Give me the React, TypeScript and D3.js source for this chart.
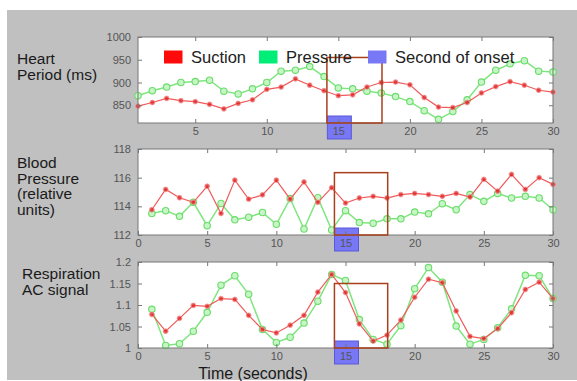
import * as d3 from "d3";
import { useEffect, useRef } from "react";

const seconds = d3.range(1, 31);

const heartSuction = [848, 856, 865, 860, 858, 852, 842, 854, 862, 885, 890, 908, 894, 882, 871,
  873, 890, 900, 901, 895, 867, 846, 845, 856, 877, 891, 902, 894, 883, 879];
const heartPressure = [871, 882, 890, 900, 902, 905, 881, 875, 886, 900, 925, 927, 935, 913, 888,
  886, 881, 877, 869, 858, 838, 819, 836, 862, 901, 927, 941, 948, 925, 923];

const bpSuction = [113.76, 115.18, 114.6, 114.28, 115.4, 113.5, 115.83, 114.5, 114.8, 115.83, 114.5, 115.7, 114.28, 115.3, 114.23,
  114.58, 114.7, 114.58, 114.82, 114.9, 114.82, 114.7, 114.9, 114.65, 115.88, 115.06, 116.23, 115.18, 116.0, 115.53];
const bpPressure = [113.5, 113.7, 113.3, 114.28, 112.65, 114.2, 113.06, 113.24, 113.57, 112.75, 114.54, 112.42, 114.6, 112.35, 113.7,
  112.87, 112.82, 113.13, 113.13, 113.6, 113.48, 114.18, 113.76, 114.82, 114.35, 114.9, 114.58, 114.7, 114.58, 113.76];

const respSuction = [1.078, 1.039, 1.069, 1.099, 1.097, 1.115, 1.113, 1.076, 1.043, 1.035, 1.053, 1.076, 1.13, 1.171, 1.129,
  1.056, 1.016, 1.03, 1.065, 1.118, 1.16, 1.152, 1.086, 1.027, 1.022, 1.045, 1.082, 1.136, 1.153, 1.115];
const respPressure = [1.09, 1.006, 1.01, 1.039, 1.083, 1.146, 1.168, 1.125, 1.043, 1.013, 1.025, 1.058, 1.109, 1.171, 1.157,
  1.066, 1.02, 1.009, 1.052, 1.138, 1.187, 1.153, 1.051, 1.009, 1.02, 1.047, 1.091, 1.169, 1.168, 1.115];

const onsetSecond = 15;
const onsetWindow = [14.2, 18.05];

const legendLabels = ["Suction", "Pressure", "Second of onset"];

// panel settings: domains, ticks, labels
const panels = [
  { label: ["Heart", "Period (ms)"], suction: heartSuction, pressure: heartPressure,
    xDomain: [1, 30], xTicks: [5, 10, 15, 20, 25, 30], yDomain: [811, 1000], yTicks: [850, 900, 950, 1000],
    boxTop: 955, top: 37, labelX: 17, labelY: 64 },
  { label: ["Blood", "Pressure", "(relative", "units)"], suction: bpSuction, pressure: bpPressure,
    xDomain: [0, 30], xTicks: [0, 5, 10, 15, 20, 25, 30], yDomain: [112, 118], yTicks: [112, 114, 116, 118],
    boxTop: 116.35, top: 149, labelX: 17, labelY: 168 },
  { label: ["Respiration", "AC signal"], suction: respSuction, pressure: respPressure,
    xDomain: [0, 30], xTicks: [0, 5, 10, 15, 20, 25, 30], yDomain: [1, 1.2], yTicks: [1, 1.05, 1.1, 1.15, 1.2],
    boxTop: 1.15, top: 262, labelX: 22, labelY: 279 },
];

const W = 577;
const H = 381;
const left = 138;
const right = 553;
const plotH = 86;
const font = "Liberation Sans, Arial, sans-serif";

export default function App() {
  const ref = useRef<SVGSVGElement>(null);

  useEffect(() => {
    const svg = d3.select(ref.current);
    svg.selectAll("*").remove();

    svg.append("rect").attr("width", W).attr("height", H).attr("fill", "#fff");
    svg.append("rect").attr("x", 7).attr("y", 10).attr("width", W - 7).attr("height", 370).attr("fill", "#c0c0c0");

    panels.forEach((p, pi) => {
      const g = svg.append("g");
      const x = d3.scaleLinear().domain(p.xDomain).range([left, right]);
      const y = d3.scaleLinear().domain(p.yDomain).range([p.top + plotH, p.top]);
      const bottom = p.top + plotH;

      g.append("rect").attr("x", left).attr("y", p.top).attr("width", right - left).attr("height", plotH)
        .attr("fill", "#fff");

      // left label
      p.label.forEach((t, i) => {
        g.append("text").attr("x", p.labelX).attr("y", p.labelY + i * 15.5).text(t)
          .attr("font-family", font).attr("font-size", 15.5).attr("fill", "#1a1a1a");
      });

      const line = d3.line<number>().x((d, i) => x(seconds[i])).y((d) => y(d));

      // pressure (green)
      g.append("path").attr("d", line(p.pressure)).attr("fill", "none")
        .attr("stroke", "#7fe67f").attr("stroke-width", 1.5);
      g.selectAll(".pm").data(p.pressure).join("circle").attr("class", "pm")
        .attr("cx", (d, i) => x(seconds[i])).attr("cy", (d) => y(d)).attr("r", 3.2)
        .attr("fill", "#c6f5c6").attr("stroke", "#6bdc6b").attr("stroke-width", 1.1);

      // suction (red)
      g.append("path").attr("d", line(p.suction)).attr("fill", "none")
        .attr("stroke", "#f05a5a").attr("stroke-width", 1.2);
      g.selectAll(".sm").data(p.suction).join("circle").attr("class", "sm")
        .attr("cx", (d, i) => x(seconds[i])).attr("cy", (d) => y(d)).attr("r", 2.4)
        .attr("fill", "#dd1c1c").attr("fill-opacity", 0.75).attr("stroke", "#f59090").attr("stroke-width", 0.8);

      // blue onset marker behind axis labels
      g.append("rect").attr("x", x(onsetSecond) - 11).attr("y", bottom - 7).attr("width", 24).attr("height", 23)
        .attr("fill", "#7878f6").attr("stroke", "#5a5ad8").attr("stroke-width", 1);

      // box
      g.append("rect").attr("x", left).attr("y", p.top).attr("width", right - left).attr("height", plotH)
        .attr("fill", "none").attr("stroke", "#777").attr("stroke-width", 1);

      // axes with inward ticks
      const ax = g.append("g").attr("transform", `translate(0,${bottom})`)
        .call(d3.axisBottom(x).tickValues(p.xTicks).tickSize(-4).tickPadding(4).tickFormat(d3.format("d")));
      const axTop = g.append("g").attr("transform", `translate(0,${p.top})`)
        .call(d3.axisTop(x).tickValues(p.xTicks).tickSize(-4).tickFormat(() => ""));
      const ay = g.append("g").attr("transform", `translate(${left},0)`)
        .call(d3.axisLeft(y).tickValues(p.yTicks).tickSize(-4).tickPadding(7).tickFormat((d) => d3.format("")(d as number)));
      const ayR = g.append("g").attr("transform", `translate(${right},0)`)
        .call(d3.axisRight(y).tickValues(p.yTicks).tickSize(-4).tickFormat(() => ""));
      [ax, axTop, ay, ayR].forEach((a) => {
        a.select(".domain").remove();
        a.selectAll("line").attr("stroke", "#777");
        a.selectAll("text").attr("fill", "#555").attr("font-size", 11).attr("font-family", font);
      });

      // onset window
      g.append("rect").attr("x", x(onsetWindow[0])).attr("y", y(p.boxTop))
        .attr("width", x(onsetWindow[1]) - x(onsetWindow[0])).attr("height", bottom - y(p.boxTop))
        .attr("fill", "none").attr("stroke", "#a8401c").attr("stroke-width", 1.5);

      if (pi === 0) {
        const colors = ["#ff0a0a", "#00ee77", "#7878f6"];
        const xs = [164, 259, 368];
        legendLabels.forEach((t, i) => {
          g.append("rect").attr("x", xs[i]).attr("y", 50.5).attr("width", 18.5).attr("height", 13)
            .attr("fill", colors[i]);
          g.append("text").attr("x", xs[i] + 27).attr("y", 63).text(t)
            .attr("font-family", font).attr("font-size", 16.5).attr("fill", "#222");
        });
      }
      if (pi === 2) {
        g.append("text").attr("x", 253).attr("y", 378.5).attr("text-anchor", "middle").text("Time (seconds)")
          .attr("font-family", font).attr("font-size", 16).attr("fill", "#1a1a1a");
      }
    });
  }, []);

  return (
    <svg ref={ref} width={W} height={H} style={{ position: "absolute", left: 0, top: 0 }} />
  );
}
